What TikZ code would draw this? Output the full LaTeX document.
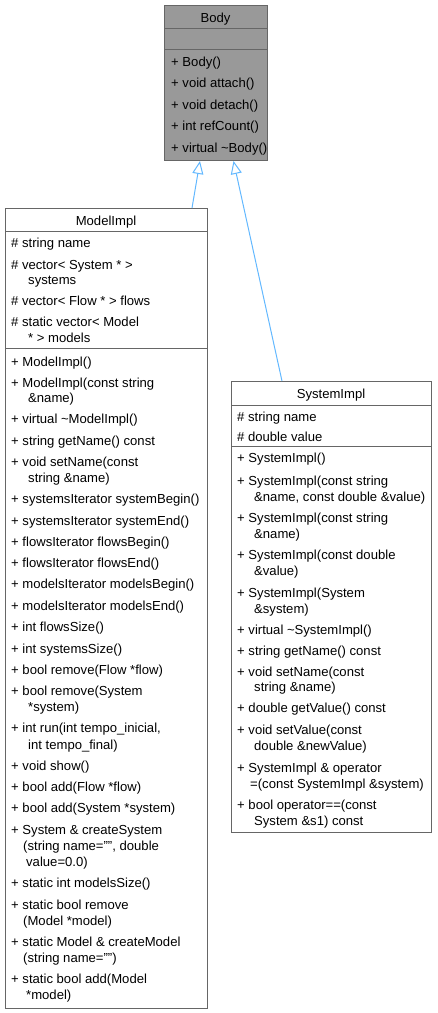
\documentclass[tikz,border=0pt]{standalone}
\usepackage{fontspec}
\setmainfont{Liberation Sans}
\usepackage{tikz}
\usetikzlibrary{%
	arrows.meta,% wg. Triangle[open]
	positioning,%
	calc
}
\definecolor{boxgray}{HTML}{999999}
\definecolor{edgegray}{HTML}{666666}
\definecolor{inheritblue}{HTML}{63B8FF}
\tikzstyle{classbox}=[rectangle, draw = edgegray, line width = 1pt, fill = white, inner sep = 0pt, anchor = north west]
\tikzstyle{curbox} = [classbox, fill = boxgray]
\tikzstyle{sepline} = [draw = edgegray, line width = 1pt]
\tikzstyle{member} = [font=\fontsize{13.1}{15}\selectfont, anchor = base west, inner sep = 0pt, yshift = -4.5pt]
\tikzstyle{classname} = [member, anchor = base]
\tikzstyle{inherit} = [draw = inheritblue, line width = 1pt, -{Triangle[open, length = 13pt, width = 11pt]}]

\begin{document}
\begin{tikzpicture}[x=1pt,y=-1pt]
		
		\useasboundingbox (0,0) rectangle (437,1013);
		
		% First we draw the class boxes
		\node[curbox, minimum width = 103pt, minimum height = 155pt] (body) at (164,5) {};
		\node[classbox, minimum width = 202pt, minimum height = 800pt] (model) at (5,208) {};
		\node[classbox, minimum width = 200pt, minimum height = 451pt] (system) at (231,381) {};
		
		% Separators between name, attributes and methods
		\foreach \ya/\xa/\xb in {28/164/267, 49/164/267, 231.5/5/207, 348.5/5/207, 405/231/431, 446/231/431}
		\draw[sepline] (\xa,\ya) -- (\xb,\ya);
		
		% Class names
		\node[classname] (bodyname) at (215.5,18) {Body};
		\node[classname] (modelname) at (106,221) {ModelImpl};
		\node[classname] (systemname) at (331,394) {SystemImpl};
		
		% Members of Body
		\foreach \x/\y/\txt [count=\i] in {
			171/61.7/+ Body(),
			171/82.7/+ void attach(),
			171/104.5/+ void detach(),
			171/126.2/+ int refCount(),
			171/147.8/+ virtual \textasciitilde Body()%
		}
		\node[member] (body\i) at (\x,\y) {\txt};
		
		% Members of ModelImpl
		\foreach \x/\y/\txt [count=\i] in {
			11/242.7/\# string name,
			11/264.5/\# vector< System * >,
			28/280/systems,
			11/300.7/\# vector< Flow * > flows,
			11/322.2/\# static vector< Model,
			28/337.5/* > models,
			11/361.5/+ ModelImpl(),
			11/382.7/+ ModelImpl(const string,
			28/397.7/\&name),
			11/418.7/+ virtual \textasciitilde ModelImpl(),
			11/440.7/+ string getName() const,
			11/461.7/+ void setName(const,
			28/477.7/string \&name),
			11/499/+ systemsIterator systemBegin(),
			11/520.5/+ systemsIterator systemEnd(),
			11/541.5/+ flowsIterator flowsBegin(),
			11/562.7/+ flowsIterator flowsEnd(),
			11/584.3/+ modelsIterator modelsBegin(),
			11/605.7/+ modelsIterator modelsEnd(),
			11/627/+ int flowsSize(),
			11/648.5/+ int systemsSize(),
			11/670/+ bool remove(Flow *flow),
			11/690.5/+ bool remove(System,
			28/706.5/*system),
			11/727.5/{+ int run(int tempo\_inicial,},
			28/744.5/int tempo\_final),
			11/766/+ void show(),
			11/787/+ bool add(Flow *flow),
			11/808.3/+ bool add(System *system),
			11/829.5/+ System \& createSystem,
			23/846/{(string name="", double},
			26/861.5/value=0.0),
			11/883.3/+ static int modelsSize(),
			11/904.5/+ static bool remove,
			23/920.5/(Model *model),
			11/941.7/+ static Model \& createModel,
			23/958/(string name=""),
			11/979.3/+ static bool add(Model,
			26/995/*model)%
		}
		\node[member] (model\i) at (\x,\y) {\txt};
		
		% Members of SystemImpl
		\foreach \x/\y/\txt [count=\i] in {
			237/416.7/\# string name,
			237/437.3/\# double value,
			237/458.3/+ SystemImpl(),
			237/481/+ SystemImpl(const string,
			254/496.7/{\&name, const double \&value)},
			237/518.3/+ SystemImpl(const string,
			254/534/\&name),
			237/555.3/+ SystemImpl(const double,
			254/571/\&value),
			237/593.3/+ SystemImpl(System,
			254/608.5/\&system),
			237/630/+ virtual \textasciitilde SystemImpl(),
			237/650.7/+ string getName() const,
			237/671.7/+ void setName(const,
			254/687.3/string \&name),
			237/708.3/+ double getValue() const,
			237/730/+ void setValue(const,
			254/745.7/double \&newValue),
			237/768.3/+ SystemImpl \& operator,
			250/783.5/=(const SystemImpl \&system),
			237/805/+ bool operator==(const,
			254/820.7/System \&s1) const%
		}
		\node[member] (system\i) at (\x,\y) {\txt};
		
		% Inheritance arrows
		\path[inherit] ([xshift=-16pt]model.north east) to ([xshift=36pt]body.south west);
		\path[inherit] ([xshift=51pt]system.north west) to ([xshift=69.5pt]body.south west);
		
\end{tikzpicture}
\end{document}
